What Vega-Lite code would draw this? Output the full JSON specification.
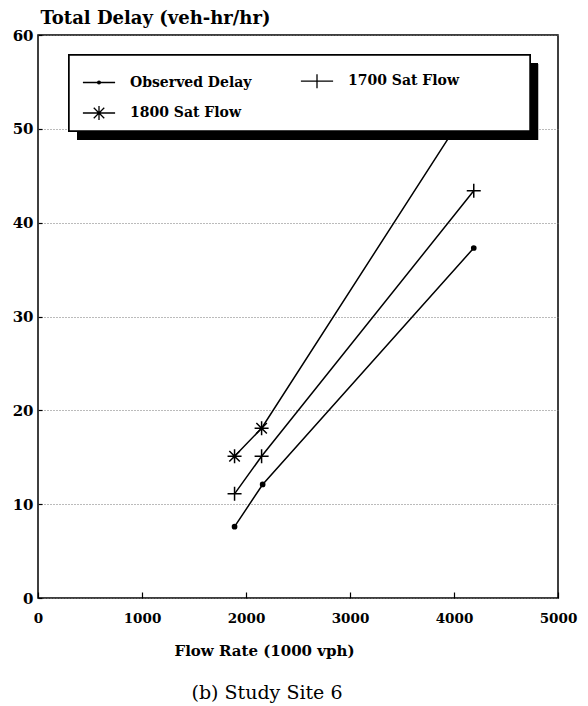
{
  "$schema": "https://vega.github.io/schema/vega-lite/v6.json",
  "width": 520,
  "height": 563,
  "autosize": {"type": "none"},
  "padding": {"left": 38, "top": 35, "right": 30, "bottom": 108},
  "background": "white",
  "config": {
    "font": "DejaVu Serif",
    "view": {"stroke": "black", "strokeWidth": 1.5}
  },
  "title": {
    "text": "(b)  Study Site 6",
    "orient": "bottom",
    "anchor": "middle",
    "frame": "group",
    "dx": -31,
    "offset": 26,
    "font": "DejaVu Serif",
    "fontSize": 19,
    "fontWeight": "normal",
    "color": "black"
  },
  "data": {
    "values": [
      {"series": "Observed Delay", "flow": 1890, "delay": 7.6},
      {"series": "Observed Delay", "flow": 2160, "delay": 12.1},
      {"series": "Observed Delay", "flow": 4190, "delay": 37.3},
      {"series": "1700 Sat Flow", "flow": 1890, "delay": 11.1},
      {"series": "1700 Sat Flow", "flow": 2150, "delay": 15.1},
      {"series": "1700 Sat Flow", "flow": 4190, "delay": 43.4},
      {"series": "1800 Sat Flow", "flow": 1890, "delay": 15.1},
      {"series": "1800 Sat Flow", "flow": 2150, "delay": 18.1},
      {"series": "1800 Sat Flow", "flow": 4190, "delay": 53.2}
    ]
  },
  "encoding": {
    "x": {
      "field": "flow",
      "type": "quantitative",
      "scale": {"domain": [0, 5000], "nice": false},
      "axis": {
        "title": "Flow Rate (1000 vph)",
        "values": [0, 1000, 2000, 3000, 4000, 5000],
        "format": "d",
        "grid": false,
        "domain": false,
        "tickColor": "black",
        "tickSize": -6,
        "tickWidth": 1.2,
        "labelPadding": 19,
        "labelFont": "DejaVu Serif",
        "labelFontWeight": "bold",
        "labelFontSize": 13.5,
        "labelColor": "black",
        "labelFlush": false,
        "titleFont": "DejaVu Serif",
        "titleFontWeight": "bold",
        "titleFontSize": 15,
        "titleColor": "black",
        "titleX": 226,
        "titleY": 57,
        "titleAlign": "center",
        "titleBaseline": "alphabetic"
      }
    },
    "y": {
      "field": "delay",
      "type": "quantitative",
      "scale": {"domain": [0, 60], "nice": false},
      "axis": {
        "title": "Total Delay (veh-hr/hr)",
        "values": [0, 10, 20, 30, 40, 50, 60],
        "grid": true,
        "gridColor": "#777777",
        "gridDash": [1, 2],
        "gridWidth": 1,
        "domain": false,
        "tickColor": "black",
        "tickSize": -4,
        "tickWidth": 1.2,
        "labelPadding": 9,
        "labelFont": "DejaVu Serif",
        "labelFontWeight": "bold",
        "labelFontSize": 15,
        "labelColor": "black",
        "labelFlush": false,
        "titleFont": "DejaVu Serif",
        "titleFontWeight": "bold",
        "titleFontSize": 18,
        "titleColor": "black",
        "titleAngle": 0,
        "titleX": 2,
        "titleY": -12,
        "titleAlign": "left",
        "titleBaseline": "alphabetic"
      }
    }
  },
  "resolve": {"scale": {"shape": "independent"}, "legend": {"shape": "independent"}},
  "layer": [
    {
      "mark": {"type": "line", "color": "black", "strokeWidth": 1.5},
      "encoding": {"detail": {"field": "series"}}
    },
    {
      "mark": {"type": "point", "filled": true, "color": "black", "fill": "black", "stroke": "black", "size": 196, "strokeWidth": 1.5, "opacity": 1},
      "encoding": {
        "shape": {
          "field": "series",
          "scale": {
            "domain": ["Observed Delay", "1700 Sat Flow", "1800 Sat Flow"],
            "range": [
              "M-0.3,0A0.3,0.3 0 1,0 0.3,0A0.3,0.3 0 1,0 -0.3,0Z",
              "M-1,0H1M0,-1V1",
              "M-1,0H1M0,-1V1M-0.75,-0.75L0.75,0.75M-0.75,0.75L0.75,-0.75"
            ]
          },
          "legend": null
        }
      }
    },
    {
      "transform": [{"filter": "false"}],
      "mark": {"type": "point", "filled": false, "color": "black", "size": 196, "strokeWidth": 1.3, "opacity": 1},
      "encoding": {
        "shape": {
          "field": "series",
          "scale": {
            "domain": ["Observed Delay", "1700 Sat Flow", "1800 Sat Flow"],
            "range": [
              "M-2.3,0H2.3M-0.2,0A0.2,0.2 0 1,0 0.2,0A0.2,0.2 0 1,0 -0.2,0ZM-0.08,0A0.08,0.08 0 1,0 0.08,0A0.08,0.08 0 1,0 -0.08,0Z",
              "M-2.3,0H2.3M0,-1V1",
              "M-2.3,0H2.3M0,-1V1M-0.75,-0.75L0.75,0.75M-0.75,0.75L0.75,-0.75"
            ]
          },
          "legend": {
            "title": null,
            "orient": "none",
            "legendX": 31,
            "legendY": 20,
            "columns": 2,
            "direction": "horizontal",
            "padding": 18,
            "rowPadding": 12,
            "columnPadding": 46,
            "symbolSize": 196,
            "symbolStrokeWidth": 1.3,
            "symbolStrokeColor": "black",
            "symbolOffset": 4,
            "labelOffset": 23,
            "labelFont": "DejaVu Serif",
            "labelFontWeight": "bold",
            "labelFontSize": 14,
            "labelColor": "black",
            "labelLimit": 400
          }
        }
      }
    },
    {
      "mark": {"type": "rect", "color": "black"},
      "encoding": {
        "x": {"datum": 375},
        "x2": {"datum": 4808},
        "y": {"datum": 57.0},
        "y2": {"datum": 48.8}
      }
    },
    {
      "mark": {"type": "rect", "fill": "white", "stroke": "black", "strokeWidth": 1.5},
      "encoding": {
        "x": {"datum": 298},
        "x2": {"datum": 4731},
        "y": {"datum": 57.87},
        "y2": {"datum": 49.77}
      }
    }
  ]
}
